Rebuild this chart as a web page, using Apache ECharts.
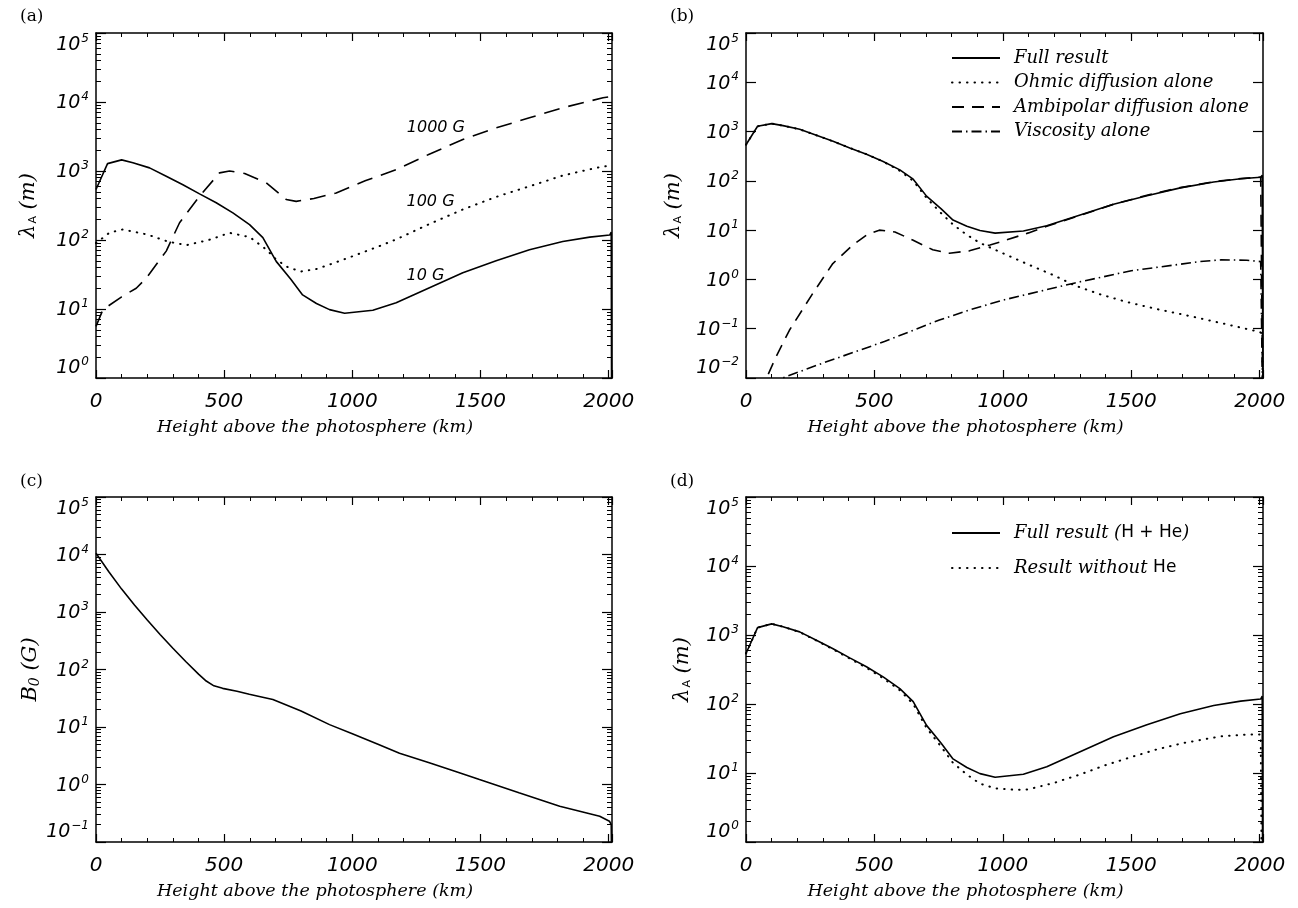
<!DOCTYPE html>
<html><head><meta charset="utf-8">
<script src="https://cdn.jsdelivr.net/npm/echarts@6/dist/echarts.min.js"></script>
<style>html,body{margin:0;padding:0;background:#fff}#c{width:1298px;height:908px}</style>
</head><body><div id="c"></div>
<script>
// ---------------- DATA ----------------
// heights (km) and lambda_A (m) for the 10 G case / full result
const hFull = [0, 45, 100, 144, 209, 274, 339, 404, 469, 534, 599, 651, 703, 760, 806, 860, 911, 970, 1080, 1171, 1301, 1431, 1561, 1691, 1821, 1926, 2004, 2010, 2013];
const vFull = [540, 1280, 1450, 1320, 1110, 840, 633, 466, 347, 247, 167, 108, 49, 27, 16, 12, 9.8, 8.7, 9.6, 12.3, 20.3, 33.5, 50, 72, 95, 110, 118, 130, 0.001];
// panel (a): 100 G
const h100G = [0, 53, 104, 200, 280, 352, 440, 521, 600, 664, 703, 750, 800, 860, 911, 1000, 1100, 1171, 1300, 1431, 1560, 1691, 1821, 1951, 2005];
const v100G = [90, 128, 142, 120, 95, 84, 100, 127, 110, 73, 52, 40, 35, 38, 44, 58, 80, 102, 170, 277, 420, 600, 860, 1110, 1200];
// panel (a): 1000 G
const h1000G = [0, 27, 100, 157, 196, 274, 326, 404, 482, 521, 580, 664, 742, 781, 850, 937, 1050, 1171, 1300, 1431, 1560, 1691, 1821, 1978, 2010];
const v1000G = [5.6, 9.8, 15, 20, 28, 69, 178, 431, 940, 1000, 920, 674, 387, 363, 400, 480, 720, 1050, 1750, 2860, 4200, 5900, 8260, 11500, 12000];
// panel (b)
const hOhm = [0, 45, 100, 144, 209, 274, 339, 404, 469, 534, 599, 651, 703, 760, 806, 860, 911, 970, 1000, 1100, 1200, 1281, 1378, 1481, 1600, 1740, 1850, 2000, 2010, 2013];
const vOhm = [540, 1280, 1450, 1320, 1110, 840, 633, 466, 347, 247, 160, 100, 45, 22, 13, 8, 5.5, 4, 3.4, 2.0, 1.2, 0.75, 0.5, 0.35, 0.25, 0.175, 0.13, 0.086, 0.08, 0.001];
const hAmb = [60, 80, 117, 169, 260, 338, 416, 470, 519, 580, 649, 727, 792, 870, 950, 1000, 1100, 1171, 1301, 1431, 1561, 1691, 1821, 1926, 2004, 2010, 2013];
const vAmb = [0.005, 0.01, 0.027, 0.093, 0.52, 2.1, 5.0, 8, 10, 9.2, 6.3, 4, 3.4, 3.8, 5, 6, 8.8, 12, 20, 33.5, 51, 73, 96, 111, 119, 130, 0.001];
const hVis = [100, 142, 298, 539, 753, 870, 1000, 1281, 1500, 1767, 1850, 1950, 2004, 2013];
const vVis = [0.007, 0.01, 0.02, 0.055, 0.15, 0.24, 0.38, 0.85, 1.5, 2.3, 2.5, 2.45, 2.3, 0.001];
// panel (c): B0 (G)
const hB = [0, 50, 100, 150, 200, 250, 300, 350, 400, 430, 460, 494, 550, 598, 637, 690, 800, 911, 1000, 1100, 1184, 1300, 1400, 1496, 1650, 1809, 1965, 2003, 2010, 2013];
const vB = [10500, 5000, 2500, 1320, 725, 407, 234, 138, 83, 63, 52, 47, 42, 37, 34, 30, 19, 11, 7.6, 5.0, 3.5, 2.4, 1.7, 1.22, 0.72, 0.42, 0.28, 0.23, 0.2, 0.01];
// panel (d): result without He
const hNoHe = [0, 45, 100, 144, 209, 274, 339, 404, 469, 534, 599, 651, 703, 760, 806, 860, 911, 970, 1050, 1100, 1200, 1300, 1400, 1500, 1600, 1700, 1767, 1850, 1950, 2004, 2013];
const vNoHe = [540, 1280, 1450, 1320, 1100, 830, 620, 455, 335, 237, 158, 100, 45, 24, 14, 9.5, 7, 6, 5.7, 5.8, 7.2, 9.5, 13, 17, 22, 27, 30, 34, 36, 36, 0.001];
// curve labels in panel (a)
const curveLabels = ['1000 G', '100 G', '10 G'];
const curveLabelAt = [[1326, 4270], [1305, 355], [1285, 30.6]];
// axes
const xTicks = [0, 500, 1000, 1500, 2000];
const xMax = 2013;
const yRanges = [[1, 1e5], [0.01, 1e5], [0.1, 1e5], [1, 1e5]];
const panelTags = ['(a)', '(b)', '(c)', '(d)'];
const xTitle = 'Height above the photosphere (km)';

// ---------------- CHART ----------------
const SERIF = "'DejaVu Serif', serif";
const SANS = "'DejaVu Sans', sans-serif";
const pairs = (h, v) => h.map((x, i) => [x, v[i]]);

const grids = [
  {left: 96, top: 33, width: 516, height: 345},
  {left: 746, top: 33, width: 517, height: 345},
  {left: 96, top: 497, width: 516, height: 345},
  {left: 746, top: 497, width: 517, height: 345}
];
const yMinor = [true, false, true, true];
const yNameGap = [57, 62, 54, 53];
const yNames = ['{l|λ}{s|A}{i| (m)}', '{l|λ}{s|A}{i| (m)}', '{i|B}{b0|0}{i| (G)}', '{l|λ}{s|A}{i| (m)}'];

const axisLine = {show: true, onZero: false, lineStyle: {color: '#000', width: 1.5}};
const supFmt = v => {
  const e = Math.round(Math.log10(v));
  return '{b|10}{s|' + (e < 0 ? '\u2212' + (-e) : e) + '}';
};
const labelRich = {
  b: {fontFamily: SANS, fontStyle: 'italic', fontSize: 19, color: '#000', padding: [3, 0, 0, 0]},
  s: {fontFamily: SANS, fontStyle: 'italic', fontSize: 12, color: '#000', padding: [0, 0, 10, 1]}
};
const nameRich = {
  l: {fontFamily: SERIF, fontStyle: 'italic', fontSize: 21, color: '#000'},
  s: {fontFamily: SANS, fontSize: 11, color: '#000', padding: [9, 0, 0, 1]},
  i: {fontFamily: SERIF, fontStyle: 'italic', fontSize: 21, color: '#000'},
  b0: {fontFamily: SERIF, fontStyle: 'italic', fontSize: 14, color: '#000', padding: [9, 0, 0, 0]}
};

const xAxes = [], yAxes = [];
grids.forEach((g, i) => {
  xAxes.push({
    type: 'value', gridIndex: i, position: 'bottom', min: 0, max: xMax, interval: 500,
    axisLine, splitLine: {show: false},
    axisTick: {show: true, inside: true, length: 8, lineStyle: {color: '#000', width: 1.2}},
    minorTick: {show: true, splitNumber: 5, length: 4, lineStyle: {color: '#000', width: 1}},
    axisLabel: {show: true, margin: 14, showMaxLabel: false, fontFamily: SANS, fontStyle: 'italic', fontSize: 20, color: '#000',
      formatter: v => xTicks.indexOf(v) >= 0 ? String(v) : ''},
    name: xTitle, nameLocation: 'middle', nameGap: 40,
    nameTextStyle: {fontFamily: SERIF, fontStyle: 'italic', fontSize: 17.5, color: '#000', padding: [0, 78, 0, 0]}
  });
  xAxes.push({
    type: 'value', gridIndex: i, position: 'top', min: 0, max: xMax, interval: 500,
    axisLine, splitLine: {show: false},
    axisTick: {show: true, inside: true, length: 8, lineStyle: {color: '#000', width: 1.2}},
    minorTick: {show: true, splitNumber: 5, length: 4, lineStyle: {color: '#000', width: 1}},
    axisLabel: {show: false}
  });
  const r = yRanges[i];
  yAxes.push({
    type: 'log', logBase: 10, gridIndex: i, position: 'left', min: r[0], max: r[1],
    axisLine, splitLine: {show: false},
    axisTick: {show: true, inside: true, length: 10, lineStyle: {color: '#000', width: 1.2}},
    minorTick: {show: yMinor[i], splitNumber: 9, length: 5, lineStyle: {color: '#000', width: 1}},
    axisLabel: {show: true, margin: 7, formatter: supFmt, rich: labelRich,
      verticalAlignMinLabel: 'bottom', verticalAlignMaxLabel: 'top'},
    name: yNames[i], nameLocation: 'middle', nameGap: yNameGap[i],
    nameTextStyle: {rich: nameRich}
  });
  yAxes.push({
    type: 'log', logBase: 10, gridIndex: i, position: 'right', min: r[0], max: r[1],
    axisLine, splitLine: {show: false},
    axisTick: {show: true, inside: true, length: 10, lineStyle: {color: '#000', width: 1.2}},
    minorTick: {show: yMinor[i], splitNumber: 9, length: 5, lineStyle: {color: '#000', width: 1}},
    axisLabel: {show: false}
  });
});

const line = (name, gi, data, type, extra) => Object.assign({
  name, type: 'line', xAxisIndex: gi * 2, yAxisIndex: gi * 2, data,
  showSymbol: false, symbol: 'none', smooth: false, clip: true, silent: true,
  lineStyle: {color: '#000', width: 1.6, type: type || 'solid', cap: 'butt'},
  itemStyle: {color: '#000'}, emphasis: {disabled: true}
}, extra || {});

const dotted = [0.5, 7];
const dotStyle = {lineStyle: {color: '#000', width: 2, type: dotted, cap: 'round'}};
const series = [
  line('10 G', 0, pairs(hFull, vFull), 'solid'),
  line('100 G', 0, pairs(h100G, v100G), dotted, dotStyle),
  line('1000 G', 0, pairs(h1000G, v1000G), [16, 9], {
    markPoint: {
      symbol: 'circle', symbolSize: 0, silent: true,
      label: {show: true, position: 'inside', fontFamily: SANS, fontStyle: 'italic', fontSize: 16, color: '#000',
        formatter: p => p.name},
      data: curveLabels.map((t, k) => ({name: t, coord: curveLabelAt[k]}))
    }
  }),
  line('Full result', 1, pairs(hFull, vFull), 'solid'),
  line('Ohmic diffusion alone', 1, pairs(hOhm, vOhm), dotted, dotStyle),
  line('Ambipolar diffusion alone', 1, pairs(hAmb, vAmb), [12, 8]),
  line('Viscosity alone', 1, pairs(hVis, vVis), [10, 4, 1.5, 4]),
  line('B0', 2, pairs(hB, vB), 'solid'),
  line('Full result (H + He)', 3, pairs(hFull, vFull), 'solid'),
  line('Result without He', 3, pairs(hNoHe, vNoHe), dotted, dotStyle)
];

const legendText = {
  fontFamily: SERIF, fontStyle: 'italic', fontSize: 18, color: '#000', lineHeight: 20, padding: [0, 0, 0, 9],
  rich: {
    i: {fontFamily: SERIF, fontStyle: 'italic', fontSize: 18, color: '#000'},
    r: {fontFamily: SANS, fontStyle: 'normal', fontSize: 17, color: '#000'}
  }
};
const legendFmt = {
  'Full result (H + He)': '{i|Full result (}{r|H + He}{i|)}',
  'Result without He': '{i|Result without }{r|He}'
};

const option = {
  backgroundColor: '#fff',
  animation: false,
  title: panelTags.map((t, i) => ({
    text: t, left: i % 2 ? 665 : 15, top: i < 2 ? 3 : 468,
    textStyle: {fontFamily: SERIF, fontWeight: 'normal', fontSize: 17, color: '#000'}
  })),
  grid: grids.map(g => Object.assign({containLabel: false, outerBoundsMode: 'none'}, g)),
  xAxis: xAxes,
  yAxis: yAxes,
  legend: [
    {
      orient: 'vertical', left: 951, top: 48, padding: 0, itemWidth: 48, itemHeight: 20, itemGap: 4.5,
      selectedMode: false, itemStyle: {opacity: 0},
      data: ['Full result', 'Ohmic diffusion alone', 'Ambipolar diffusion alone', 'Viscosity alone'],
      textStyle: legendText
    },
    {
      orient: 'vertical', left: 951, top: 523, padding: 0, itemWidth: 48, itemHeight: 20, itemGap: 15,
      selectedMode: false, itemStyle: {opacity: 0},
      data: ['Full result (H + He)', 'Result without He'],
      formatter: n => legendFmt[n] || n,
      textStyle: legendText
    }
  ],
  series
};
const chart = echarts.init(document.getElementById('c'));
chart.setOption(option);
</script>
</body></html>
